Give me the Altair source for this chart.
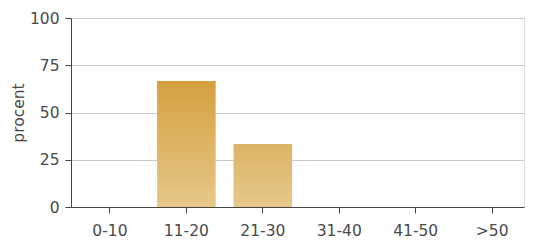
import altair as alt
import pandas as pd

categories = ["0-10", "11-20", "21-30", "31-40", "41-50", ">50"]
values = [0, 66.7, 33.3, 0, 0, 0]

df = pd.DataFrame({"cat": categories, "val": values})

FONT = "DejaVu Sans"
TXT = "#4a4a4a"
FS = 15.5

x_enc = alt.X("cat:N", sort=categories, title=None,
              scale=alt.Scale(paddingInner=0.234, paddingOuter=0.08, align=0.79),
              axis=alt.Axis(labelAngle=0, labelFont=FONT, labelFontSize=FS,
                            labelColor=TXT, tickColor="#444", domainColor="#444",
                            tickSize=6, labelPadding=10, domainWidth=1))
y_enc = alt.Y("val:Q", title="procent",
              scale=alt.Scale(domain=[0, 100]),
              axis=alt.Axis(values=[0, 25, 50, 75, 100], labelFont=FONT,
                            labelFontSize=FS, labelColor=TXT, tickColor="#444",
                            domainColor="#444", tickSize=6, gridColor="#c8c8c8",
                            titleFont=FONT, titleFontSize=FS,
                            titleFontWeight="normal", titleColor=TXT, titlePadding=3,
                            labelPadding=6))

def grad(top, bottom):
    return alt.Gradient(gradient="linear", x1=0, x2=0, y1=0, y2=1,
                        stops=[alt.GradientStop(color=top, offset=0),
                               alt.GradientStop(color=bottom, offset=1)])

base = alt.Chart(df).encode(x=x_enc, y=y_enc)

bar1 = base.mark_bar(color=grad("#D4A03E", "#E7C88A")).transform_filter(alt.datum.cat == "11-20")
bar2 = base.mark_bar(color=grad("#DDB466", "#E7C88A")).transform_filter(alt.datum.cat == "21-30")
others = base.mark_bar(color="#D4A03E").transform_filter(
    (alt.datum.cat != "11-20") & (alt.datum.cat != "21-30"))

chart = alt.layer(others, bar1, bar2).properties(
    width=453, height=189,
    autosize=alt.AutoSizeParams(type="none"),
    padding={"left": 63, "top": 10, "right": 1, "bottom": 33},
).configure_view(stroke="#444", strokeWidth=1).configure(background="white")

chart.save("out.html", embed_options={"renderer": "svg", "actions": False})
